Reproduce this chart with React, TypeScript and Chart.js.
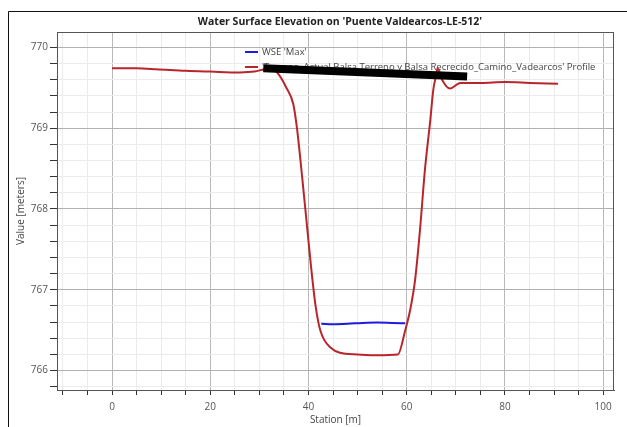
import React, { useEffect, useRef } from "react";
import { Chart, registerables } from "chart.js";
Chart.register(...registerables);

const TITLE = "Water Surface Elevation on 'Puente Valdearcos-LE-512'";
const X_TITLE = "Station [m]";
const Y_TITLE = "Value [meters]";
const WSE_LABEL = "WSE 'Max'";
const PROFILE_LABEL = "'Terreno_Actual Balsa Terreno y Balsa Recrecido_Camino_Vadearcos' Profile";

const profileStation = [0, 5, 9, 15, 20, 26, 29, 31, 32.5, 34, 35.5, 36.9, 37.7, 38.7, 39.6, 40.5, 41.4, 42.0, 42.4, 43.2, 44.4, 46.4, 50, 54, 58.2, 59.7, 60.7, 61.7, 62.7, 63.7, 64.8, 65.4, 66.0, 66.3, 67.2, 68.8, 70.9, 75, 80, 85, 90.8];
const profileElev = [769.74, 769.74, 769.73, 769.71, 769.7, 769.69, 769.7, 769.73, 769.74, 769.66, 769.5, 769.3, 768.98, 768.4, 767.85, 767.3, 766.82, 766.6, 766.5, 766.38, 766.29, 766.22, 766.2, 766.19, 766.2, 766.5, 766.75, 767.12, 767.74, 768.48, 769.1, 769.47, 769.66, 769.74, 769.6, 769.49, 769.56, 769.56, 769.57, 769.56, 769.55];

const wseStation = [42.6, 45, 48, 51, 54, 57, 59.7];
const wseElev = [766.58, 766.575, 766.58, 766.59, 766.595, 766.59, 766.585];

// redaction bar that covers part of the legend in the reference
const redactStation = [30.8, 72.3];
const redactElev = [769.74, 769.64];

const X_MIN = -11.2, X_MAX = 102.2;
const Y_MIN = 765.76, Y_MAX = 770.19;

const FONT = "'Open Sans', 'Liberation Sans', sans-serif";

const pts = (xs: number[], ys: number[]) => xs.map((x, i) => ({ x, y: ys[i] }));
const isInt = (v: number, step: number) => Math.abs(v / step - Math.round(v / step)) < 1e-6;

const framePlugin = {
  id: "frame",
  beforeDatasetsDraw(chart: any) {
    const { ctx, chartArea } = chart;
    const items = [
      { label: WSE_LABEL, color: chart.data.datasets[1].borderColor },
      { label: PROFILE_LABEL, color: chart.data.datasets[2].borderColor },
    ];
    ctx.save();
    ctx.font = `9.5px ${FONT}`;
    ctx.textBaseline = "middle";
    ctx.fillStyle = "#444";
    items.forEach((it, i) => {
      const x = chartArea.left + 188;
      const y = chartArea.top + 20 + i * 15;
      ctx.strokeStyle = it.color;
      ctx.lineWidth = 2;
      ctx.beginPath();
      ctx.moveTo(x, y);
      ctx.lineTo(x + 13, y);
      ctx.stroke();
      ctx.fillText(it.label, x + 17, y);
    });
    ctx.restore();
  },
  afterDraw(chart: any) {
    const { ctx, chartArea } = chart;
    ctx.save();
    ctx.strokeStyle = "#555";
    ctx.lineWidth = 1;
    ctx.strokeRect(chartArea.left + 0.5, chartArea.top + 0.5, chartArea.right - chartArea.left - 1, chartArea.bottom - chartArea.top);
    ctx.strokeStyle = "#111";
    ctx.beginPath();
    ctx.moveTo(8.5, chart.height);
    ctx.lineTo(8.5, 11.5);
    ctx.lineTo(chart.width, 11.5);
    ctx.stroke();
    ctx.fillStyle = "#222";
    ctx.font = `bold 10.5px ${FONT}`;
    ctx.textAlign = "center";
    ctx.textBaseline = "middle";
    ctx.fillText(TITLE, 340, 22);
    ctx.restore();
  },
};

export default function App() {
  const ref = useRef<HTMLCanvasElement>(null);
  useEffect(() => {
    if (!ref.current) return;
    const chart = new Chart(ref.current, {
      type: "line",
      data: {
        datasets: [
          {
            label: "redact",
            data: pts(redactStation, redactElev),
            borderColor: "#000",
            borderWidth: 8,
            pointRadius: 0,
            order: -1,
            borderCapStyle: "butt",
          },
          {
            label: WSE_LABEL,
            data: pts(wseStation, wseElev),
            borderColor: "#1c1ce0",
            borderWidth: 2,
            pointRadius: 0,
            cubicInterpolationMode: "monotone",
          },
          {
            label: PROFILE_LABEL,
            data: pts(profileStation, profileElev),
            borderColor: "#b8262c",
            borderWidth: 2,
            pointRadius: 0,
            cubicInterpolationMode: "monotone",
          },
        ],
      },
      options: {
        animation: false,
        responsive: false,
        devicePixelRatio: 1,
        layout: { padding: { left: 0, top: 32, right: 13, bottom: 0 } },
        plugins: { legend: { display: false }, tooltip: { enabled: false }, title: { display: false } },
        scales: {
          x: {
            type: "linear",
            min: X_MIN,
            max: X_MAX,
            afterFit: (s: any) => { s.height = 37; },
            ticks: {
              stepSize: 5,
              includeBounds: false,
              autoSkip: false,
              maxRotation: 0,
              padding: 6,
              color: "#555",
              font: { family: FONT, size: 10 },
              callback: (v: any) => (isInt(v, 20) ? String(Math.round(v)) : ""),
            },
            grid: {
              color: (c: any) => (isInt(c.tick.value, 20) ? "#b8b8b8" : "#ebebeb"),
              tickColor: "#333",
              tickLength: 5,
            },
            border: { color: "#555" },
            title: { display: true, text: X_TITLE, color: "#444", font: { family: FONT, size: 10 }, padding: { top: 0, bottom: 1 } },
          },
          y: {
            type: "linear",
            min: Y_MIN,
            max: Y_MAX,
            afterFit: (s: any) => { s.width = 57; },
            ticks: {
              stepSize: 0.2,
              includeBounds: false,
              autoSkip: false,
              padding: 2,
              color: "#555",
              font: { family: FONT, size: 10 },
              callback: (v: any) => (isInt(v, 1) ? String(Math.round(v)) : ""),
            },
            grid: {
              color: (c: any) => (isInt(c.tick.value, 1) ? "#b0b0b0" : "#ebebeb"),
              tickColor: "#333",
              tickLength: 7,
            },
            border: { color: "#555" },
            title: { display: true, text: Y_TITLE, color: "#444", font: { family: FONT, size: 10 }, padding: { top: 15, bottom: 0 } },
          },
        },
      },
      plugins: [framePlugin],
    } as any);
    return () => chart.destroy();
  }, []);
  return (
    <canvas
      ref={ref}
      width={627}
      height={427}
      style={{ position: "fixed", left: 0, top: 0, width: 627, height: 427 }}
    />
  );
}
